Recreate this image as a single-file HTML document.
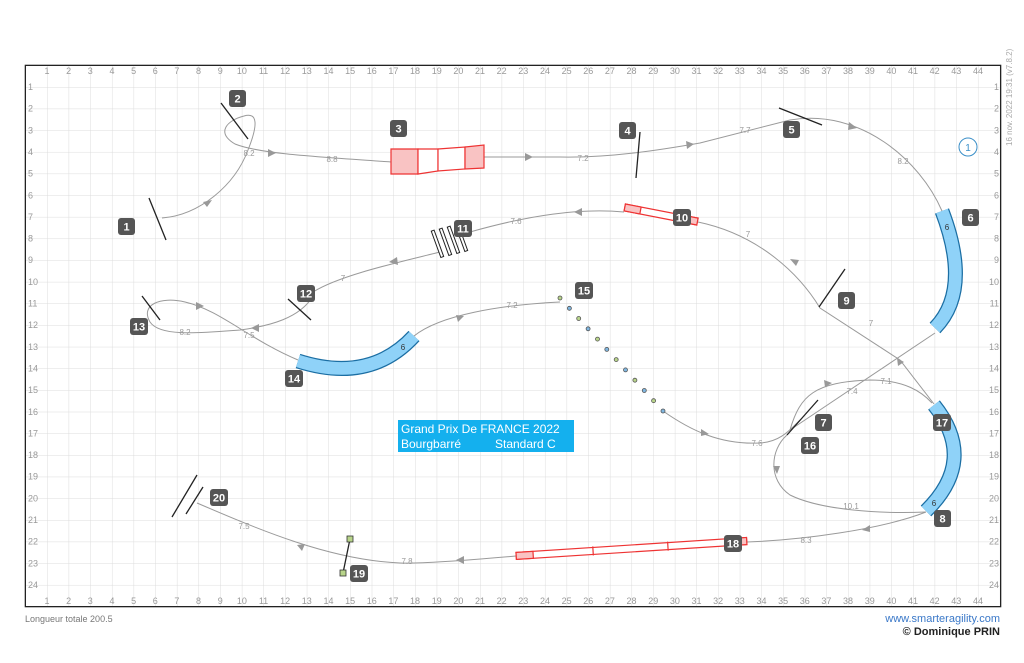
<!DOCTYPE html>
<html><head><meta charset="utf-8"><style>
html,body{margin:0;padding:0;background:#fff;width:1024px;height:663px;overflow:hidden}
svg{display:block;font-family:"Liberation Sans",sans-serif}
.ax{font-size:9px;fill:#999;text-anchor:middle}
.pl{fill:none;stroke:#9a9a9a;stroke-width:1}
.dl{font-size:8px;fill:#999;text-anchor:middle}
.nb rect{fill:#555}
.nb text{fill:#fff;font-size:11px;font-weight:bold;text-anchor:middle}
.ar{fill:#999}
.jb{stroke:#222;stroke-width:1.3}
</style></head><body>
<svg width="1024" height="663" viewBox="0 0 1024 663">
<defs>
<pattern id="g" patternUnits="userSpaceOnUse" x="25.35" y="65.35" width="21.65" height="21.65">
<path d="M0,0 L21.65,0 M0,0 L0,21.65" stroke="#dcdcdc" stroke-width="1" fill="none"/>
</pattern>
</defs>
<rect x="25.35" y="65.35" width="974.3" height="541.3" fill="url(#g)"/>
<rect x="25.35" y="65.35" width="975.3" height="541.3" fill="none" stroke="#222" stroke-width="1.3"/>

<g class="ax">
<text x="47" y="74">1</text><text x="68.65" y="74">2</text><text x="90.3" y="74">3</text><text x="111.95" y="74">4</text><text x="133.6" y="74">5</text><text x="155.25" y="74">6</text><text x="176.9" y="74">7</text><text x="198.55" y="74">8</text><text x="220.2" y="74">9</text><text x="241.85" y="74">10</text><text x="263.5" y="74">11</text><text x="285.15" y="74">12</text><text x="306.8" y="74">13</text><text x="328.45" y="74">14</text><text x="350.1" y="74">15</text><text x="371.75" y="74">16</text><text x="393.4" y="74">17</text><text x="415.05" y="74">18</text><text x="436.7" y="74">19</text><text x="458.35" y="74">20</text><text x="480" y="74">21</text><text x="501.65" y="74">22</text><text x="523.3" y="74">23</text><text x="544.95" y="74">24</text><text x="566.6" y="74">25</text><text x="588.25" y="74">26</text><text x="609.9" y="74">27</text><text x="631.55" y="74">28</text><text x="653.2" y="74">29</text><text x="674.85" y="74">30</text><text x="696.5" y="74">31</text><text x="718.15" y="74">32</text><text x="739.8" y="74">33</text><text x="761.45" y="74">34</text><text x="783.1" y="74">35</text><text x="804.75" y="74">36</text><text x="826.4" y="74">37</text><text x="848.05" y="74">38</text><text x="869.7" y="74">39</text><text x="891.35" y="74">40</text><text x="913" y="74">41</text><text x="934.65" y="74">42</text><text x="956.3" y="74">43</text><text x="977.95" y="74">44</text>
</g>
<g class="ax">
<text x="47" y="604">1</text><text x="68.65" y="604">2</text><text x="90.3" y="604">3</text><text x="111.95" y="604">4</text><text x="133.6" y="604">5</text><text x="155.25" y="604">6</text><text x="176.9" y="604">7</text><text x="198.55" y="604">8</text><text x="220.2" y="604">9</text><text x="241.85" y="604">10</text><text x="263.5" y="604">11</text><text x="285.15" y="604">12</text><text x="306.8" y="604">13</text><text x="328.45" y="604">14</text><text x="350.1" y="604">15</text><text x="371.75" y="604">16</text><text x="393.4" y="604">17</text><text x="415.05" y="604">18</text><text x="436.7" y="604">19</text><text x="458.35" y="604">20</text><text x="480" y="604">21</text><text x="501.65" y="604">22</text><text x="523.3" y="604">23</text><text x="544.95" y="604">24</text><text x="566.6" y="604">25</text><text x="588.25" y="604">26</text><text x="609.9" y="604">27</text><text x="631.55" y="604">28</text><text x="653.2" y="604">29</text><text x="674.85" y="604">30</text><text x="696.5" y="604">31</text><text x="718.15" y="604">32</text><text x="739.8" y="604">33</text><text x="761.45" y="604">34</text><text x="783.1" y="604">35</text><text x="804.75" y="604">36</text><text x="826.4" y="604">37</text><text x="848.05" y="604">38</text><text x="869.7" y="604">39</text><text x="891.35" y="604">40</text><text x="913" y="604">41</text><text x="934.65" y="604">42</text><text x="956.3" y="604">43</text><text x="977.95" y="604">44</text>
</g>
<g class="ax" style="text-anchor:start">
<text x="28" y="90">1</text><text x="28" y="111.6">2</text><text x="28" y="133.3">3</text><text x="28" y="155">4</text><text x="28" y="176.6">5</text><text x="28" y="198.3">6</text><text x="28" y="219.9">7</text><text x="28" y="241.6">8</text><text x="28" y="263.2">9</text><text x="28" y="284.9">10</text><text x="28" y="306.5">11</text><text x="28" y="328.2">12</text><text x="28" y="349.8">13</text><text x="28" y="371.5">14</text><text x="28" y="393.1">15</text><text x="28" y="414.8">16</text><text x="28" y="436.4">17</text><text x="28" y="458">18</text><text x="28" y="479.7">19</text><text x="28" y="501.4">20</text><text x="28" y="523">21</text><text x="28" y="544.7">22</text><text x="28" y="566.3">23</text><text x="28" y="588">24</text>
</g>
<g class="ax" style="text-anchor:end">
<text x="999" y="90">1</text><text x="999" y="111.6">2</text><text x="999" y="133.3">3</text><text x="999" y="155">4</text><text x="999" y="176.6">5</text><text x="999" y="198.3">6</text><text x="999" y="219.9">7</text><text x="999" y="241.6">8</text><text x="999" y="263.2">9</text><text x="999" y="284.9">10</text><text x="999" y="306.5">11</text><text x="999" y="328.2">12</text><text x="999" y="349.8">13</text><text x="999" y="371.5">14</text><text x="999" y="393.1">15</text><text x="999" y="414.8">16</text><text x="999" y="436.4">17</text><text x="999" y="458">18</text><text x="999" y="479.7">19</text><text x="999" y="501.4">20</text><text x="999" y="523">21</text><text x="999" y="544.7">22</text><text x="999" y="566.3">23</text><text x="999" y="588">24</text>
</g>
<text x="1012" y="146" transform="rotate(-90 1012 146)" style="font-size:8px;fill:#aaa">16 nov. 2022 19:31  (v7.8.2)</text>

<!-- paths -->
<g class="pl">
<path d="M162,218 C200,215 235,185 248,150 C258,125 258,112 244,116 C228,120 215,132 235,144 C260,154 320,157 391,162"/>
<path d="M484,157 L560,157 C610,158 660,150 700,143 L790,120 C860,108 920,160 942,211"/>
<path d="M935,333 L790,430"/>
<path d="M790,430 C800,395 815,382 870,380 C905,380 922,392 932,403"/>
<path d="M934,404 L900,360 L820,308 C800,275 760,235 698,222"/>
<path d="M624,212 C580,208 530,215 470,232"/>
<path d="M440,252 C400,262 340,275 313,292"/>
<path d="M313,296 C300,318 270,326 240,330 C200,333 160,337 150,322 C140,305 160,296 185,302 C220,310 250,340 298,360"/>
<path d="M414,336 C440,315 500,305 560,302"/>
<path d="M663,411 C690,430 720,445 760,443 C780,442 790,430 800,420"/>
<path d="M787,435 C770,450 768,480 790,495 C820,510 880,514 926,512"/>
<path d="M926,512 C880,530 800,540 747,542"/>
<path d="M516,556 C470,560 420,564 400,563 C330,560 260,530 197,503"/>
</g>
<!-- arrows -->
<g class="ar">
<polygon points="212,200 203,202 207,207"/>
<polygon points="276,153 268,149 268,157"/>
<polygon points="533,157 525,153 525,161"/>
<polygon points="694,144 686,141 687,149"/>
<polygon points="857,128 849,122 848,130"/>
<polygon points="897,358 898,366 904,362"/>
<polygon points="790,259 796,266 799,260"/>
<polygon points="574,212 582,208 582,216"/>
<polygon points="389,262 397,257 398,265"/>
<polygon points="251,328 259,324 259,332"/>
<polygon points="204,306 196,302 196,310"/>
<polygon points="464,316 456,315 458,322"/>
<polygon points="709,434 701,429 701,436"/>
<polygon points="777,474 773,466 780,466"/>
<polygon points="862,530 870,525 870,532"/>
<polygon points="456,560 464,556 464,564"/>
<polygon points="297,545 305,544 302,551"/>
<polygon points="832,383 824,380 825,387"/>
</g>
<!-- distance labels -->
<g class="dl">
<text x="249" y="156">8.2</text><text x="332" y="162">8.8</text><text x="583" y="161">7.2</text><text x="745" y="133">7.7</text><text x="903" y="164">8.2</text>
<text x="748" y="237">7</text><text x="516" y="224">7.6</text><text x="343" y="281">7</text><text x="871" y="326">7</text>
<text x="185" y="335">8.2</text><text x="249" y="338">7.5</text><text x="512" y="308">7.2</text>
<text x="852" y="394">7.4</text><text x="886" y="384">7.1</text><text x="757" y="446">7.6</text><text x="851" y="509">10.1</text><text x="806" y="543">8.3</text>
<text x="407" y="564">7.8</text><text x="244" y="529">7.5</text>
</g>

<!-- jumps -->
<g class="jb">
<line x1="149" y1="198" x2="166" y2="240"/>
<line x1="221" y1="103" x2="248" y2="139"/>
<line x1="640" y1="132" x2="636" y2="178"/>
<line x1="779" y1="108" x2="822" y2="125"/>
<line x1="845" y1="269" x2="819" y2="307"/>
<line x1="288" y1="299" x2="311" y2="320"/>
<line x1="142" y1="296" x2="160" y2="320"/>
<line x1="818" y1="400" x2="787" y2="435"/>
<line x1="197" y1="475" x2="172" y2="517"/>
<line x1="203" y1="487" x2="186" y2="514"/>
<line x1="350" y1="539" x2="343" y2="573"/>
</g>
<!-- tunnels -->
<g fill="none" stroke-linecap="butt">
<path d="M942,211 Q972,290 935,328" stroke="#1b6ea3" stroke-width="15"/>
<path d="M942,211 Q972,290 935,328" stroke="#8fd2f8" stroke-width="12.5"/>
<path d="M298,361 Q370,384 414,336" stroke="#1b6ea3" stroke-width="15"/>
<path d="M298,361 Q370,384 414,336" stroke="#8fd2f8" stroke-width="12.5"/>
<path d="M934,405 Q978,460 926,511" stroke="#1b6ea3" stroke-width="15"/>
<path d="M934,405 Q978,460 926,511" stroke="#8fd2f8" stroke-width="12.5"/>
</g>
<g style="font-size:8px;fill:#333" text-anchor="middle"><text x="947" y="230">6</text><text x="403" y="350">6</text><text x="934" y="506">6</text></g>
<!-- A-frame -->
<g stroke="#e33" stroke-width="1.2">
<polygon points="391,149 418,149 418,174 391,174" fill="#f9c3c3"/>
<polygon points="418,149 438,149 438,171 418,174" fill="#fff"/>
<polygon points="438,149 465,147 465,169 438,171" fill="#fff"/>
<polygon points="465,147 484,145 484,168 465,169" fill="#f9c3c3"/>
</g>
<!-- seesaw 10 -->
<g transform="rotate(11 661 215)" stroke="#e33" stroke-width="1.2">
<rect x="624" y="211" width="74" height="7" fill="#fff"/>
<rect x="624" y="211" width="16" height="7" fill="#f9c3c3"/>
<rect x="682" y="211" width="16" height="7" fill="#f9c3c3"/>
</g>
<!-- dogwalk 18 -->
<g transform="rotate(-3.7 631 549)" stroke="#e33" stroke-width="1.2">
<rect x="516" y="545" width="231" height="7" fill="#fff"/>
<rect x="516" y="545" width="17" height="7" fill="#f9c3c3"/>
<rect x="738" y="545" width="9" height="7" fill="#f9c3c3"/>
<line x1="593" y1="544" x2="593" y2="553"/><line x1="668" y1="544" x2="668" y2="553"/>
</g>
<!-- long jump 11 -->
<g fill="#fff" stroke="#222" stroke-width="1">
<rect x="436" y="230" width="3" height="28" transform="rotate(-20 437 244)"/>
<rect x="444" y="228" width="3" height="28" transform="rotate(-20 445 242)"/>
<rect x="452" y="226" width="3" height="28" transform="rotate(-20 453 240)"/>
<rect x="460" y="224" width="3" height="28" transform="rotate(-20 461 238)"/>
</g>
<!-- weave 15 -->
<g stroke="#555" stroke-width="0.8">
<circle cx="560" cy="298" r="2" fill="#b8d48a"/><circle cx="569.4" cy="308.3" r="2" fill="#7fb6e0"/><circle cx="578.7" cy="318.5" r="2" fill="#b8d48a"/><circle cx="588.1" cy="328.8" r="2" fill="#7fb6e0"/><circle cx="597.5" cy="339.1" r="2" fill="#b8d48a"/><circle cx="606.8" cy="349.4" r="2" fill="#7fb6e0"/><circle cx="616.2" cy="359.6" r="2" fill="#b8d48a"/><circle cx="625.5" cy="369.9" r="2" fill="#7fb6e0"/><circle cx="634.9" cy="380.2" r="2" fill="#b8d48a"/><circle cx="644.3" cy="390.5" r="2" fill="#7fb6e0"/><circle cx="653.6" cy="400.7" r="2" fill="#b8d48a"/><circle cx="663" cy="411" r="2" fill="#7fb6e0"/>
</g>
<g fill="#b8d48a" stroke="#333" stroke-width="0.8"><rect x="347" y="536" width="6" height="6"/><rect x="340" y="570" width="6" height="6"/></g>

<!-- number badges -->
<g class="nb">
<rect x="118" y="218" width="17" height="17" rx="3"/><text x="126.5" y="230.5">1</text>
<rect x="229" y="90" width="17" height="17" rx="3"/><text x="237.5" y="102.5">2</text>
<rect x="390" y="120" width="17" height="17" rx="3"/><text x="398.5" y="132.5">3</text>
<rect x="619" y="122" width="17" height="17" rx="3"/><text x="627.5" y="134.5">4</text>
<rect x="783" y="121" width="17" height="17" rx="3"/><text x="791.5" y="133.5">5</text>
<rect x="962" y="209" width="17" height="17" rx="3"/><text x="970.5" y="221.5">6</text>
<rect x="815" y="414" width="17" height="17" rx="3"/><text x="823.5" y="426.5">7</text>
<rect x="934" y="510" width="17" height="17" rx="3"/><text x="942.5" y="522.5">8</text>
<rect x="838" y="292" width="17" height="17" rx="3"/><text x="846.5" y="304.5">9</text>
<rect x="673" y="209" width="18" height="17" rx="3"/><text x="682" y="221.5">10</text>
<rect x="454" y="220" width="18" height="17" rx="3"/><text x="463" y="232.5">11</text>
<rect x="297" y="285" width="18" height="17" rx="3"/><text x="306" y="297.5">12</text>
<rect x="130" y="318" width="18" height="17" rx="3"/><text x="139" y="330.5">13</text>
<rect x="285" y="370" width="18" height="17" rx="3"/><text x="294" y="382.5">14</text>
<rect x="575" y="282" width="18" height="17" rx="3"/><text x="584" y="294.5">15</text>
<rect x="801" y="437" width="18" height="17" rx="3"/><text x="810" y="449.5">16</text>
<rect x="933" y="414" width="18" height="17" rx="3"/><text x="942" y="426.5">17</text>
<rect x="724" y="535" width="18" height="17" rx="3"/><text x="733" y="547.5">18</text>
<rect x="350" y="565" width="18" height="17" rx="3"/><text x="359" y="577.5">19</text>
<rect x="210" y="489" width="18" height="17" rx="3"/><text x="219" y="501.5">20</text>
</g>
<circle cx="968" cy="147" r="9" fill="#fff" stroke="#3a8fc8" stroke-width="1"/>
<text x="968" y="151" text-anchor="middle" style="font-size:10px;fill:#3a8fc8">1</text>

<rect x="398" y="420" width="176" height="32" fill="#14b0ee"/>
<text x="401" y="433" style="font-size:12px;fill:#fff">Grand Prix De FRANCE 2022</text>
<text x="401" y="448" style="font-size:12px;fill:#fff">Bourgbarré</text>
<text x="495" y="448" style="font-size:12px;fill:#fff">Standard C</text>

<text x="25" y="622" style="font-size:9px;fill:#777">Longueur totale 200.5</text>
<text x="1000" y="622" text-anchor="end" style="font-size:11px;fill:#3a78c8">www.smarteragility.com</text>
<text x="1000" y="635" text-anchor="end" style="font-size:11px;fill:#222;font-weight:bold">© Dominique PRIN</text>
</svg>
</body></html>
